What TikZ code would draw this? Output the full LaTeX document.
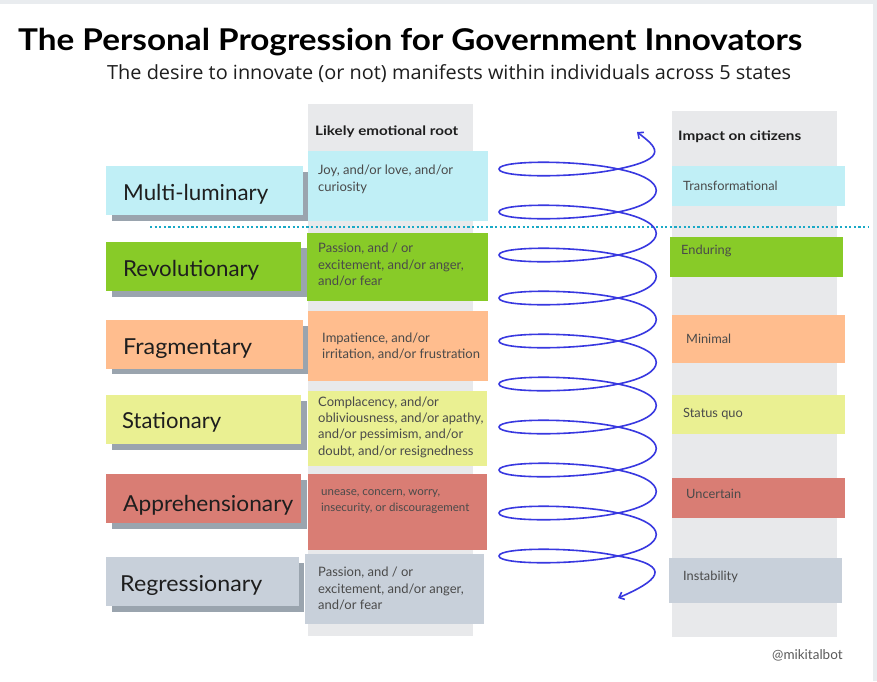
\documentclass[tikz,border=0pt]{standalone}
\usepackage{fontspec}
\setmainfont{Lato}
\newfontfamily\subfont{Open Sans}
\usepackage{graphicx}
\usetikzlibrary{arrows.meta}
\definecolor{cyanbox}{HTML}{C0EFF6}
\definecolor{greenbox}{HTML}{88CB28}
\definecolor{orangebox}{HTML}{FFBD8E}
\definecolor{yellowbox}{HTML}{EAF092}
\definecolor{redbox}{HTML}{D97D74}
\definecolor{graybox}{HTML}{C8D0DA}
\definecolor{colgray}{HTML}{E8E9EB}
\definecolor{shadowgray}{HTML}{9AA4AE}
\definecolor{dotteal}{HTML}{1AA9C6}
\definecolor{spiralblue}{HTML}{3838E0}
\definecolor{framegray}{HTML}{E9ECEF}
\definecolor{darktext}{HTML}{1E1E1E}
\definecolor{boxtext}{HTML}{4A4A4A}
\definecolor{credittext}{HTML}{5A5A5A}
\newcommand{\fitw}[2]{\resizebox{#1}{\height}{#2}}
\begin{document}
\begin{tikzpicture}[x=1pt,y=-1pt,
  colbg/.style={fill=colgray},
  shadowbox/.style={fill=shadowgray},
  lbl/.style={anchor=west, inner sep=0pt, text=darktext, font=\fontsize{22}{26}\selectfont},
  rootlbl/.style={anchor=north west, inner sep=0pt, align=left, text=boxtext, font=\fontsize{13}{16.8}\selectfont},
  implbl/.style={anchor=west, inner sep=0pt, text=boxtext, font=\fontsize{12.8}{15}\selectfont},
  hdr/.style={anchor=west, inner sep=0pt, text=darktext, font=\bfseries\fontsize{13}{15}\selectfont},
  spiral/.style={draw=spiralblue, line width=1.6pt, line cap=round}
]
\useasboundingbox (0,0) rectangle (877,681);
\fill[white] (0,0) rectangle (877,681);
% frame
\fill[framegray] (0,0) rectangle (877,3.5);
\fill[framegray] (873,0) rectangle (877,681);

% title
\node[anchor=base west, inner sep=0pt, text=black, font=\bfseries\fontsize{30}{34}\selectfont] (title) at (18,50) {\fitw{784pt}{The Personal Progression for Government Innovators}};
\node[anchor=base west, inner sep=0pt, text=darktext, font=\subfont\fontsize{19.5}{23}\selectfont] (subtitle) at (107,79) {\fitw{684pt}{The desire to innovate (or not) manifests within individuals across 5 states}};

% columns
\fill[colbg] (308,104) rectangle (473,636);
\fill[colbg] (672,111) rectangle (837,637);
\node[hdr] (hroot) at (315,132) {\fitw{143pt}{Likely emotional root}};
\node[hdr] (himpact) at (678,137) {\fitw{123pt}{Impact on citizens}};

% shadows
\fill[shadowbox] (112,172) rectangle (308,221);
\fill[shadowbox] (112,248) rectangle (307,297);
\fill[shadowbox] (112,326) rectangle (308,374);
\fill[shadowbox] (112,401) rectangle (307,450);
\fill[shadowbox] (112,480) rectangle (307,529);
\fill[shadowbox] (112,563) rectangle (304,612);

% left state boxes
\fill[cyanbox] (106,166) rectangle (303,215);
\fill[greenbox] (106,242) rectangle (301,291);
\fill[orangebox] (106,320) rectangle (303,369);
\fill[yellowbox] (106,395) rectangle (301,444);
\fill[redbox] (106,474) rectangle (301,523);
\fill[graybox] (106,557) rectangle (299,606);
\node[lbl] (s1) at (123,194) {\fitw{145pt}{Multi-luminary}};
\node[lbl] (s2) at (123,270) {\fitw{136pt}{Revolutionary}};
\node[lbl] (s3) at (123,349) {\fitw{129pt}{Fragmentary}};
\node[lbl] (s4) at (122,422) {\fitw{99pt}{Stationary}};
\node[lbl] (s5) at (123,505) {\fitw{170pt}{Apprehensionary}};
\node[lbl] (s6) at (120,585) {\fitw{142pt}{Regressionary}};

% emotional root boxes
\fill[cyanbox] (308,151) rectangle (488,221);
\fill[greenbox] (307,233) rectangle (488,301);
\fill[orangebox] (308,311) rectangle (488,381);
\fill[yellowbox] (308,391) rectangle (487,466);
\fill[redbox] (308,474) rectangle (487,550);
\fill[graybox] (305,554) rectangle (484,624);
\node[rootlbl] (r1) at (318,164.5) {Joy, and/or love, and/or\\curiosity};
\node[rootlbl] (r2) at (318,242.5) {Passion, and / or\\excitement, and/or anger,\\and/or fear};
\node[rootlbl, font=\fontsize{13}{16}\selectfont] (r3) at (322,332.5) {Impatience, and/or\\irritation, and/or frustration};
\node[rootlbl, font=\fontsize{13}{16.3}\selectfont] (r4) at (318,396.5) {Complacency, and/or\\obliviousness, and/or apathy,\\and/or pessimism, and/or\\doubt, and/or resignedness};
\node[rootlbl, font=\fontsize{11.5}{16}\selectfont] (r5) at (321,489) {unease, concern, worry,\\insecurity, or discouragement};
\node[rootlbl] (r6) at (318,566.5) {Passion, and / or\\excitement, and/or anger,\\and/or fear};

% impact boxes
\fill[cyanbox] (672,166) rectangle (845,206);
\fill[greenbox] (670,237) rectangle (843,277);
\fill[orangebox] (672,315) rectangle (845,363);
\fill[yellowbox] (672,395) rectangle (845,434);
\fill[redbox] (672,478) rectangle (845,518);
\fill[graybox] (669,558) rectangle (842,603);
\node[implbl] (i1) at (683,186) {Transformational};
\node[implbl] (i2) at (681,251) {Enduring};
\node[implbl] (i3) at (686,339) {Minimal};
\node[implbl] (i4) at (683,414) {Status quo};
\node[implbl] (i5) at (686,494) {Uncertain};
\node[implbl] (i6) at (683,577) {Instability};

% dotted divider
\coordinate (dl) at (150,227);
\coordinate (dr) at (868,227);
\draw[dotteal, line width=2.2pt, dash pattern=on 2.2pt off 2.4pt] (dl) -- (dr);

% spiral
\coordinate (spstart) at (637,132);
\coordinate (spend) at (618,598);
\draw[spiral, {Straight Barb[length=4.5pt,width=8pt]}-{Straight Barb[length=4.5pt,width=8pt]}]
  (spstart) .. controls (655,146) and (672,158) .. (618,169)
  \foreach \i in {0,...,8} {
    .. controls (578,{169+43*\i+9}) and (499,{169+43*\i+9}) .. (499,{169+43*\i})
    .. controls (499,{169+43*\i-9}) and (578,{169+43*\i-9}) .. (618,{169+43*\i})
    .. controls (669,{169+43*\i+10}) and (669,{169+43*\i+33}) .. (618,{169+43*\i+43})
  }
  .. controls (578,565) and (499,565) .. (499,556)
  .. controls (499,547) and (578,547) .. (618,556)
  .. controls (678,566) and (655,582) .. (spend);

% credit
\node[anchor=west, inner sep=0pt, text=credittext, font=\fontsize{13.5}{15}\selectfont] (credit) at (772,655) {@mikitalbot};
\end{tikzpicture}
\end{document}
